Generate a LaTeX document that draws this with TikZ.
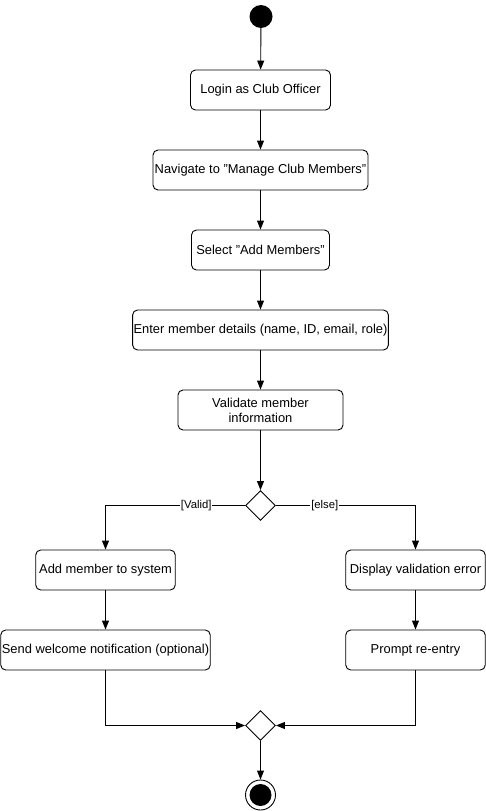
\documentclass[tikz,border=0pt]{standalone}
\usepackage{fontspec}
\setmainfont{Liberation Sans}
\usetikzlibrary{shapes.geometric,arrows.meta}
\tikzset{
  act/.style={draw, rounded corners=5pt, line width=0.9pt, fill=white, minimum height=40pt, inner sep=1pt, font=\fontsize{12.9}{14.5}\selectfont, align=center},
  decis/.style={draw, diamond, aspect=1, minimum width=30pt, minimum height=30pt, inner sep=0pt, line width=0.9pt, fill=white},
  flow/.style={draw, line width=0.9pt, -{Triangle[length=9pt,width=7pt]}},
  guard/.style={fill=white, inner sep=1pt, font=\fontsize{11.3}{13}\selectfont}
}
\begin{document}
\begin{tikzpicture}[x=1pt,y=-1pt]
\useasboundingbox (0,0) rectangle (486,811);
\node[circle, fill=black, minimum size=23pt, inner sep=0pt] (start) at (261,16.5) {};
\node[act, minimum width=140pt] (login) at (260.5,90) {Login as Club Officer};
\node[act, minimum width=215pt] (nav) at (260.5,170) {Navigate to "Manage Club Members"};
\node[act, minimum width=138pt] (sel) at (260.5,250) {Select "Add Members"};
\node[act, minimum width=253pt] (enter) at (260.5,330) {Enter member details (name, ID, email, role)};
\node[act, minimum width=165pt, font=\fontsize{12.9}{15}\selectfont] (valid) at (260.5,410) {Validate member\\information};
\node[decis] (d1) at (260.5,505.5) {};
\node[act, minimum width=139.5pt] (add) at (105.5,570) {Add member to system};
\node[act, minimum width=139.5pt] (disp) at (415.5,570) {Display validation error};
\node[act, minimum width=209.5pt] (send) at (105.5,650) {Send welcome notification (optional)};
\node[act, minimum width=139.5pt] (prompt) at (415.5,650) {Prompt re-entry};
\node[decis] (d2) at (260.5,725.5) {};
\node[circle, draw, line width=0.9pt, fill=white, minimum size=30pt, inner sep=0pt] (final) at (260.5,795) {};
\node[circle, fill=black, minimum size=22pt, inner sep=0pt] (finalin) at (final.center) {};

\draw[flow] (start) -- (login);
\draw[flow] (login) -- (nav);
\draw[flow] (nav) -- (sel);
\draw[flow] (sel) -- (enter);
\draw[flow] (enter) -- (valid);
\draw[flow] (valid) -- (d1);
\draw[flow] (d1.west) -| node[guard, pos=0.175] {[Valid]} (add.north);
\draw[flow] (d1.east) -| node[guard, pos=0.175] {[else]} (disp.north);
\draw[flow] (add) -- (send);
\draw[flow] (disp) -- (prompt);
\draw[flow] (send.south) |- (d2.west);
\draw[flow] (prompt.south) |- (d2.east);
\draw[flow] (d2) -- (final);
\end{tikzpicture}
\end{document}
